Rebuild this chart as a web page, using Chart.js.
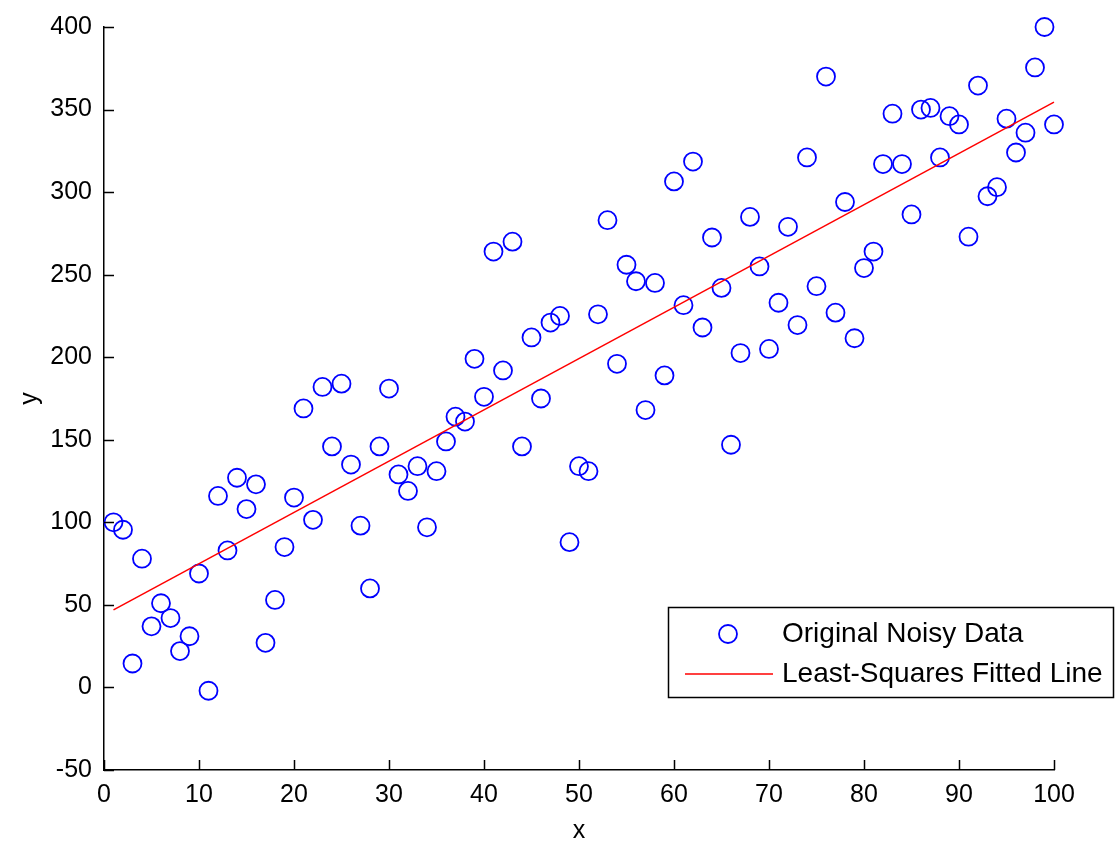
<!DOCTYPE html>
<html>
<head>
<meta charset="utf-8">
<script src="https://cdn.jsdelivr.net/npm/chart.js@4.4.1/dist/chart.umd.min.js"></script>
<style>
  html, body { margin: 0; padding: 0; background: #fff; }
  #wrap { width: 1116px; height: 846px; }
</style>
</head>
<body>
<div id="wrap"><canvas id="c" width="1116" height="846"></canvas></div>
<script>
// Sample positions and noisy measurements
const sampleX = [
  1, 2, 3, 4, 5, 6, 7, 8, 9, 10,
  11, 12, 13, 14, 15, 16, 17, 18, 19, 20,
  21, 22, 23, 24, 25, 26, 27, 28, 29, 30,
  31, 32, 33, 34, 35, 36, 37, 38, 39, 40,
  41, 42, 43, 44, 45, 46, 47, 48, 49, 50,
  51, 52, 53, 54, 55, 56, 57, 58, 59, 60,
  61, 62, 63, 64, 65, 66, 67, 68, 69, 70,
  71, 72, 73, 74, 75, 76, 77, 78, 79, 80,
  81, 82, 83, 84, 85, 86, 87, 88, 89, 90,
  91, 92, 93, 94, 95, 96, 97, 98, 99, 100
];
const noisyY = [
  100, 95.5, 14.5, 78, 37, 51, 42, 22, 31, 69,
  -2, 116, 83, 127, 108, 123, 27, 53, 85, 115,
  169, 101.5, 182, 146, 184, 135, 98, 60, 146, 181,
  129, 119, 134, 97, 131, 149, 164, 161, 199, 176,
  264, 192, 270, 146, 212, 175, 221, 225, 88, 134,
  131, 226, 283, 196, 256, 246, 168, 245, 189, 306.5,
  231.5, 318.5, 218, 272.5, 242, 147, 202.5, 285, 255, 205,
  233, 279, 219.5, 321, 243, 370, 227, 294, 211.5, 254,
  264, 317, 347.5, 317, 286.5, 350, 351, 321, 346, 341,
  273, 364.5, 297.5, 303, 344.5, 324, 336, 375.5, 400, 341
];

// End points of the fitted line
const fitX = [1, 100];
const fitY = [47, 354.5];

// Axis tick values
const xTicks = [0, 10, 20, 30, 40, 50, 60, 70, 80, 90, 100];
const yTicks = [-50, 0, 50, 100, 150, 200, 250, 300, 350, 400];

const seriesNames = ['Original Noisy Data', 'Least-Squares Fitted Line'];

const FONT = "'Liberation Sans', Arial, sans-serif";
const BLUE = '#0000ff';
const RED = '#ff0000';

const scatterPoints = sampleX.map((x, i) => ({ x: x, y: noisyY[i] }));
const fitPoints = fitX.map((x, i) => ({ x: x, y: fitY[i] }));

// Tick marks drawn on the inside of the axes
const innerTicks = {
  id: 'innerTicks',
  afterDatasetsDraw(chart) {
    const { ctx, chartArea, scales } = chart;
    const len = 10;
    ctx.save();
    ctx.strokeStyle = '#000';
    ctx.lineWidth = 1.5;
    ctx.beginPath();
    xTicks.forEach(v => {
      const px = Math.round(scales.x.getPixelForValue(v)) + 0.5;
      ctx.moveTo(px, chartArea.bottom);
      ctx.lineTo(px, chartArea.bottom - len);
    });
    yTicks.forEach(v => {
      const py = Math.round(scales.y.getPixelForValue(v)) + 0.5;
      ctx.moveTo(chartArea.left, py);
      ctx.lineTo(chartArea.left + len, py);
    });
    ctx.stroke();
    ctx.restore();
  }
};

// Boxed legend in the lower right corner
const boxLegend = {
  id: 'boxLegend',
  afterDraw(chart) {
    const { ctx, chartArea } = chart;
    const ds = chart.data.datasets;
    const x0 = chartArea.right - 386;
    const y0 = chartArea.bottom - 163;
    const w = 445, h = 90;
    ctx.save();
    ctx.fillStyle = '#fff';
    ctx.fillRect(x0, y0, w, h);
    ctx.strokeStyle = '#000';
    ctx.lineWidth = 1.5;
    ctx.strokeRect(x0 + 0.5, y0 + 0.5, w, h);

    const row1 = y0 + 27, row2 = y0 + 67;
    // marker sample
    ctx.strokeStyle = ds[0].borderColor;
    ctx.lineWidth = ds[0].borderWidth;
    ctx.beginPath();
    ctx.arc(x0 + 60, row1, ds[0].pointRadius, 0, Math.PI * 2);
    ctx.stroke();
    // line sample
    ctx.strokeStyle = ds[1].borderColor;
    ctx.lineWidth = ds[1].borderWidth;
    ctx.beginPath();
    ctx.moveTo(x0 + 17, row2);
    ctx.lineTo(x0 + 105, row2);
    ctx.stroke();

    ctx.fillStyle = '#000';
    ctx.font = '28px ' + FONT;
    ctx.textBaseline = 'middle';
    ctx.textAlign = 'left';
    ctx.fillText(ds[0].label, x0 + 114, row1);
    ctx.fillText(ds[1].label, x0 + 114, row2);
    ctx.restore();
  }
};

new Chart(document.getElementById('c'), {
  type: 'scatter',
  data: {
    datasets: [
      {
        label: seriesNames[0],
        data: scatterPoints,
        pointStyle: 'circle',
        pointRadius: 9,
        pointHoverRadius: 9,
        borderColor: BLUE,
        backgroundColor: 'rgba(0,0,0,0)',
        borderWidth: 1.8,
        showLine: false,
        clip: false,
        order: 1
      },
      {
        type: 'line',
        label: seriesNames[1],
        data: fitPoints,
        borderColor: RED,
        borderWidth: 1.5,
        pointRadius: 0,
        fill: false,
        tension: 0,
        clip: false,
        order: 0
      }
    ]
  },
  options: {
    responsive: false,
    animation: false,
    events: [],
    layout: { padding: { left: 0, right: 62, top: 25, bottom: 0 } },
    plugins: {
      legend: { display: false },
      tooltip: { enabled: false },
      title: { display: false }
    },
    scales: {
      x: {
        type: 'linear',
        min: 0,
        max: 100,
        afterBuildTicks(scale) { scale.ticks = xTicks.map(v => ({ value: v })); },
        afterFit(scale) { scale.height = 76; },
        grid: { display: false, drawTicks: false },
        border: { display: true, color: '#000', width: 1.5 },
        ticks: {
          color: '#000',
          font: { family: FONT, size: 25 },
          padding: 10,
          maxRotation: 0
        },
        title: {
          display: true,
          text: 'x',
          color: '#000',
          font: { family: FONT, size: 25 },
          padding: { top: 0, bottom: 0 }
        }
      },
      y: {
        type: 'linear',
        min: -50,
        max: 400,
        afterBuildTicks(scale) { scale.ticks = yTicks.map(v => ({ value: v })); },
        afterFit(scale) { scale.width = 104; },
        grid: { display: false, drawTicks: false },
        border: { display: true, color: '#000', width: 1.5 },
        ticks: {
          color: '#000',
          font: { family: FONT, size: 25 },
          padding: 12
        },
        title: {
          display: true,
          text: 'y',
          color: '#000',
          font: { family: FONT, size: 25 },
          padding: { top: 15, bottom: 0 }
        }
      }
    }
  },
  plugins: [innerTicks, boxLegend]
});
</script>
</body>
</html>
